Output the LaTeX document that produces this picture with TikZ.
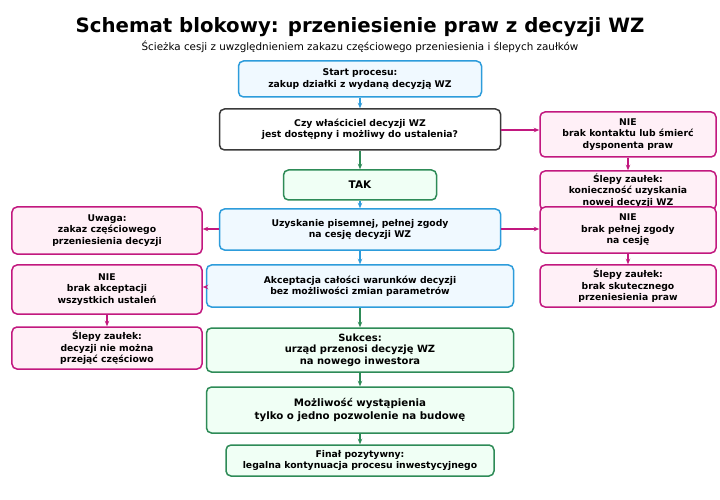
\documentclass[tikz,border=0pt]{standalone}
\usepackage{fontspec}
\setmainfont{DejaVu Sans}
\usetikzlibrary{arrows.meta}
\definecolor{cblue}{HTML}{2D9CDB}
\definecolor{fblue}{HTML}{F0F9FF}
\definecolor{cgreen}{HTML}{2E8B57}
\definecolor{fgreen}{HTML}{F0FFF5}
\definecolor{cmag}{HTML}{C2187F}
\definecolor{fmag}{HTML}{FFF0F7}
\definecolor{cgray}{HTML}{3A3A3A}
\tikzset{
  box/.style={rounded corners=5bp, line width=1.5bp, align=center, inner sep=2bp, font=\bfseries\fontsize{9.3}{11.5}\selectfont},
  bluebox/.style={box, draw=cblue, fill=fblue},
  greenbox/.style={box, draw=cgreen, fill=fgreen},
  magbox/.style={box, draw=cmag, fill=fmag},
  graybox/.style={box, draw=cgray, fill=white},
  arr/.style={-{Stealth[length=5.5bp,width=4.5bp]}, line width=1.6bp},
  barr/.style={arr, draw=cblue},
  garr/.style={arr, draw=cgreen},
  marr/.style={arr, draw=cmag},
}
\begin{document}
\begin{tikzpicture}[x=1bp,y=-1bp]
\useasboundingbox[fill=white] (0,0) rectangle (720,500);
\node[font=\bfseries\fontsize{19.8}{23}\selectfont] (title) at (360,27) {Schemat blokowy: przeniesienie praw z decyzji WZ};
\node[font=\fontsize{10.4}{12}\selectfont] (sub) at (360,47) {Ścieżka cesji z uwzględnieniem zakazu częściowego przeniesienia i ślepych zaułków};

\node[bluebox, minimum width=243bp, minimum height=36bp] (start) at (360,79) {Start procesu:\\zakup działki z wydaną decyzją WZ};
\node[graybox, minimum width=281bp, minimum height=41bp] (q) at (360,129.5) {Czy właściciel decyzji WZ\\jest dostępny i możliwy do ustalenia?};
\node[magbox, minimum width=176bp, minimum height=45bp] (nie1) at (628,134.5) {NIE\\brak kontaktu lub śmierć\\dysponenta praw};
\node[greenbox, minimum width=153bp, minimum height=30bp, font=\bfseries\fontsize{10.5}{12}\selectfont] (tak) at (360,185) {TAK};
\node[magbox, minimum width=176bp, minimum height=39bp] (sl1) at (628,190.5) {Ślepy zaułek:\\konieczność uzyskania\\nowej decyzji WZ};
\node[magbox, minimum width=190bp, minimum height=47bp] (uwaga) at (107,230.5) {Uwaga:\\zakaz częściowego\\przeniesienia decyzji};
\node[bluebox, minimum width=281bp, minimum height=41bp] (uzysk) at (360,229.5) {Uzyskanie pisemnej, pełnej zgody\\na cesję decyzji WZ};
\node[magbox, minimum width=176bp, minimum height=46bp] (nie2) at (628,230) {NIE\\brak pełnej zgody\\na cesję};
\node[bluebox, minimum width=307bp, minimum height=42bp] (akc) at (360,286) {Akceptacja całości warunków decyzji\\bez możliwości zmian parametrów};
\node[magbox, minimum width=190bp, minimum height=49bp] (nie3) at (107,289.5) {NIE\\brak akceptacji\\wszystkich ustaleń};
\node[magbox, minimum width=176bp, minimum height=42bp] (sl2) at (628,286) {Ślepy zaułek:\\brak skutecznego\\przeniesienia praw};
\node[magbox, minimum width=190bp, minimum height=42bp] (sl3) at (107,348) {Ślepy zaułek:\\decyzji nie można\\przejąć częściowo};
\node[greenbox, minimum width=307bp, minimum height=44bp, font=\bfseries\fontsize{10}{11.7}\selectfont] (suk) at (360,350) {Sukces:\\urząd przenosi decyzję WZ\\na nowego inwestora};
\node[greenbox, minimum width=307bp, minimum height=46bp, font=\bfseries\fontsize{10.3}{13}\selectfont] (mozl) at (360,410) {Możliwość wystąpienia\\tylko o jedno pozwolenie na budowę};
\node[greenbox, minimum width=268bp, minimum height=31bp] (fin) at (360,460.5) {Finał pozytywny:\\legalna kontynuacja procesu inwestycyjnego};

\draw[barr] (start) -- (q);
\draw[marr] (q.east |- 0,130) -- (nie1.west |- 0,130);
\draw[marr] (nie1) -- (sl1);
\draw[garr] (q) -- (tak);
\draw[barr] (tak) -- (uzysk);
\draw[marr] (uzysk.west |- 0,229) -- (uwaga.east |- 0,229);
\draw[marr] (uzysk.east |- 0,229) -- (nie2.west |- 0,229);
\draw[marr] (nie2) -- (sl2);
\draw[barr] (uzysk) -- (akc);
\draw[marr] (akc.west |- 0,287) -- (nie3.east |- 0,287);
\draw[marr] (nie3) -- (sl3);
\draw[garr] (akc) -- (suk);
\draw[garr] (suk) -- (mozl);
\draw[garr] (mozl) -- (fin);
\end{tikzpicture}
\end{document}
